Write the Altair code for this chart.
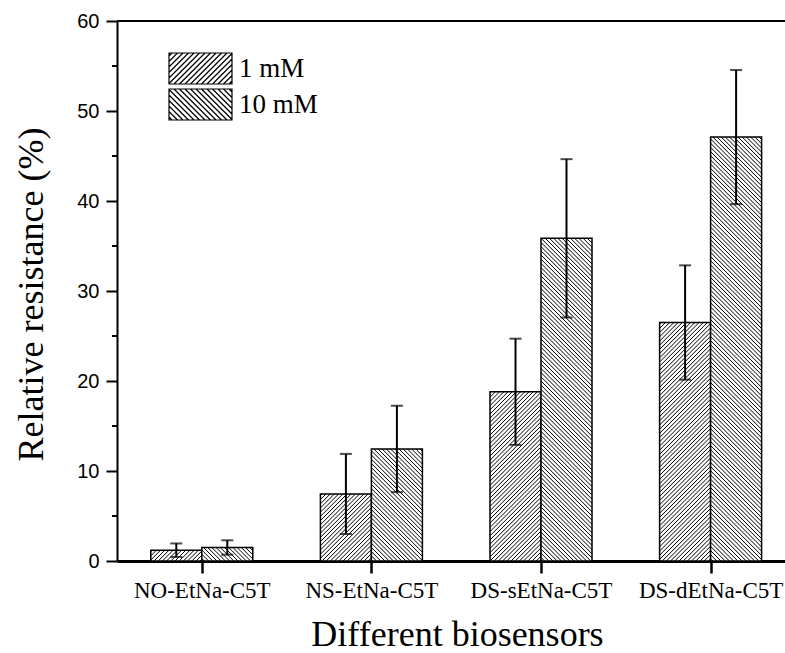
import json
import math
import altair as alt
import pandas as pd

# ---------------- data ----------------
categories = ["NO-EtNa-C5T", "NS-EtNa-C5T", "DS-sEtNa-C5T", "DS-dEtNa-C5T"]
concentrations = ["1 mM", "10 mM"]
mean_1mM = [1.2, 7.45, 18.8, 26.5]
err_1mM = [0.75, 4.45, 5.9, 6.35]
mean_10mM = [1.5, 12.45, 35.85, 47.1]
err_10mM = [0.8, 4.8, 8.8, 7.45]
y_major_ticks = [0, 10, 20, 30, 40, 50, 60]
y_minor_ticks = [5, 15, 25, 35, 45, 55]

# ---------------- layout / style constants ----------------
PLOT_W, PLOT_H = 668, 540
X_MIN = 0.5
STEP_PX = 169.6
X_MAX = X_MIN + PLOT_W / STEP_PX
Y_MIN, Y_MAX = 0, 60
BAR_W = 51 / STEP_PX
SX = PLOT_W / (X_MAX - X_MIN)
SY = PLOT_H / (Y_MAX - Y_MIN)
HATCH_PX = 4.2
SERIF = "Liberation Serif"
SANS = "Liberation Sans"


def clip_hatch(ux0, ux1, vy0, vy1, direction, s):
    """Diagonal 45-degree hatch segments clipped to a box (v axis up)."""
    segs = []
    if direction > 0:  # "/" : v = u + c
        kmin = math.floor((vy0 - ux1) / s)
        kmax = math.ceil((vy1 - ux0) / s)
        for k in range(kmin, kmax + 1):
            c = k * s
            lo = max(ux0, vy0 - c)
            hi = min(ux1, vy1 - c)
            if hi - lo > 1e-6:
                segs.append((lo, lo + c, hi, hi + c))
    else:  # "\" : v = c - u
        kmin = math.floor((ux0 + vy0) / s)
        kmax = math.ceil((ux1 + vy1) / s)
        for k in range(kmin, kmax + 1):
            c = k * s
            lo = max(ux0, c - vy1)
            hi = min(ux1, c - vy0)
            if hi - lo > 1e-6:
                segs.append((lo, c - lo, hi, c - hi))
    return segs


# ---------------- tables ----------------
rows = []
for i, cat in enumerate(categories):
    c = i + 1
    for conc, means, errs, x0, x1, d in (
        ("1 mM", mean_1mM, err_1mM, c - BAR_W, c, 1),
        ("10 mM", mean_10mM, err_10mM, c, c + BAR_W, -1),
    ):
        rows.append(dict(category=cat, conc=conc, x0=x0, x1=x1, xc=(x0 + x1) / 2,
                         mean=means[i], lo=means[i] - errs[i], hi=means[i] + errs[i],
                         dirn=d))
bars = pd.DataFrame(rows)

hatch_rows = []
for r in rows:
    for (u1, v1, u2, v2) in clip_hatch(r["x0"] * SX, r["x1"] * SX, 0, r["mean"] * SY,
                                       r["dirn"], HATCH_PX):
        hatch_rows.append(dict(x=u1 / SX, y=v1 / SY, x2=u2 / SX, y2=v2 / SY))
hatch = pd.DataFrame(hatch_rows)

minor = pd.DataFrame({"v": y_minor_ticks})


def legend_path(direction):
    r = 31.5
    hh = 15.5 / r
    s = 5.5 / r
    p = f"M-1,{-hh:.3f}L1,{-hh:.3f}L1,{hh:.3f}L-1,{hh:.3f}Z"
    for (u1, v1, u2, v2) in clip_hatch(-1, 1, -hh, hh, direction, s):
        p += f"M{u1:.3f},{-v1:.3f}L{u2:.3f},{-v2:.3f}"
    return p


label_expr = f"{json.dumps(categories)}[datum.value - 1]"

x_axis = alt.Axis(values=[1, 2, 3, 4], labelExpr=label_expr, title="Different biosensors",
                  tickSize=12, tickWidth=2.5, tickColor="black", domainWidth=3,
                  domainColor="black", labelFont=SERIF, labelFontSize=23, labelColor="black",
                  labelBaseline="alphabetic", labelPadding=24, labelFlush=False,
                  labelOverlap=False, grid=False,
                  titleFont=SERIF, titleFontSize=36, titleFontWeight="normal",
                  titleColor="black", titleBaseline="alphabetic", titleX=340, titleY=84,
                  titleAlign="center", titleAnchor="middle")
y_axis = alt.Axis(values=y_major_ticks, title="Relative resistance (%)",
                  tickSize=11, tickWidth=2, tickColor="black", domainWidth=2,
                  domainColor="black", labelFont=SANS, labelFontSize=20, labelColor="black",
                  labelPadding=7, grid=False,
                  titleFont=SERIF, titleFontSize=36, titleFontWeight="normal",
                  titleColor="black", titleAngle=270, titleBaseline="alphabetic",
                  titleX=-75, titleY=273, titleAlign="center", titleAnchor="middle")
x_scale = alt.Scale(domain=[X_MIN, X_MAX], nice=False, zero=False)
y_scale = alt.Scale(domain=[Y_MIN, Y_MAX], nice=False, zero=False)


def X(field):
    return alt.X(field, type="quantitative", scale=x_scale, axis=x_axis)


def Y(field):
    return alt.Y(field, type="quantitative", scale=y_scale, axis=y_axis)


def bar_layer(conc, direction, legend_y):
    return alt.Chart(bars).transform_filter(alt.datum.conc == conc).mark_bar(
        stroke="black", strokeWidth=1.5
    ).encode(
        x=X("x0"), x2="x1", y=Y("mean"), y2=alt.datum(0),
        fill=alt.Fill("conc:N", scale=alt.Scale(domain=[conc], range=["white"]),
                      legend=alt.Legend(title=None, orient="none", legendX=51,
                                        legendY=legend_y, padding=0,
                                        symbolType=legend_path(direction),
                                        symbolSize=3969, symbolStrokeColor="black",
                                        symbolStrokeWidth=1.2, symbolOpacity=1,
                                        labelFont=SERIF, labelFontSize=27,
                                        labelColor="black", labelOffset=6)),
    )


bars_1 = bar_layer("1 mM", 1, 15)
bars_10 = bar_layer("10 mM", -1, 51)

hatch_layer = alt.Chart(hatch).mark_rule(color="black", strokeWidth=1).encode(
    x=X("x"), y=Y("y"), x2="x2", y2="y2")

err_line = alt.Chart(bars).mark_rule(color="black", strokeWidth=2).encode(
    x=X("xc"), y=Y("lo"), y2="hi")
cap_hi = alt.Chart(bars).mark_tick(color="black", orient="horizontal", size=12,
                                   thickness=2).encode(x=X("xc"), y=Y("hi"))
cap_lo = alt.Chart(bars).mark_tick(color="black", orient="horizontal", size=12,
                                   thickness=2).encode(x=X("xc"), y=Y("lo"))

minor_ticks = alt.Chart(minor).mark_rule(color="black", strokeWidth=2).encode(
    y=Y("v"), x=alt.value(-5), x2=alt.value(0))

top_line = alt.Chart(minor).mark_rule(color="black", strokeWidth=2).encode(
    x=alt.value(0), x2=alt.value(PLOT_W), y=alt.value(0))

chart = alt.layer(
    bars_1, bars_10, hatch_layer, err_line, cap_hi, cap_lo, minor_ticks, top_line
).resolve_scale(fill="independent").properties(
    width=PLOT_W, height=PLOT_H,
    autosize=alt.AutoSizeParams(type="none"),
    padding={"left": 117, "top": 21, "right": 0, "bottom": 92},
    background="white",
).configure_view(stroke=None)

chart.save("out.html", embed_options={"renderer": "svg", "actions": False})
